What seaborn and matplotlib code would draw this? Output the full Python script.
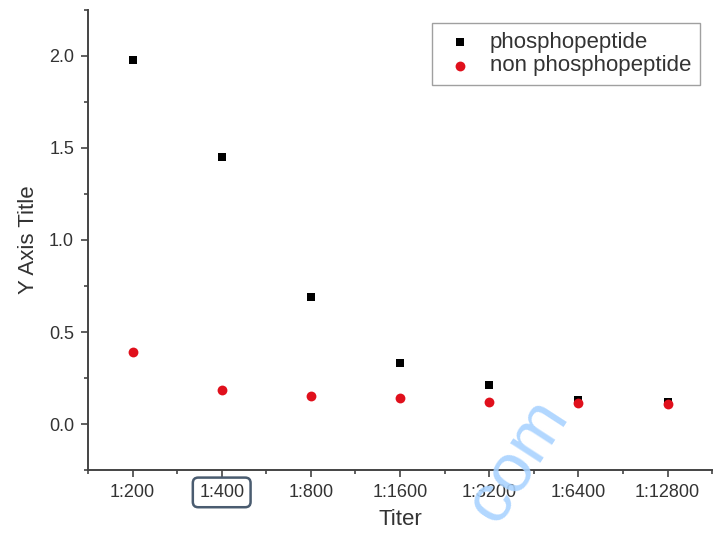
import numpy as np
import pandas as pd
import matplotlib
matplotlib.use("Agg")
import matplotlib.pyplot as plt
import seaborn as sns
from matplotlib.ticker import FixedLocator

titers = ["1:200", "1:400", "1:800", "1:1600", "1:3200", "1:6400", "1:12800"]
phospho = [1.98, 1.45, 0.69, 0.33, 0.21, 0.13, 0.12]
non_phospho = [0.39, 0.185, 0.152, 0.142, 0.122, 0.115, 0.109]
y_ticks = [0.0, 0.5, 1.0, 1.5, 2.0]

sns.set_style("white")
plt.rcParams['font.family'] = ['Liberation Sans', 'DejaVu Sans']
text_color = '#333333'
axis_color = '#444444'

df_p = pd.DataFrame({'Titer': titers, 'value': phospho})
df_n = pd.DataFrame({'Titer': titers, 'value': non_phospho})

fig = plt.figure(figsize=(7.15, 5.48), dpi=100)
ax = fig.add_axes([0.123, 0.1423, 0.873, 0.8395])

sns.scatterplot(data=df_p, x='Titer', y='value', marker='s', color='black',
                s=40, linewidth=0, label='phosphopeptide', ax=ax)
sns.scatterplot(data=df_n, x='Titer', y='value', marker='o', color='#e0101c',
                s=50, linewidth=0, label='non phosphopeptide', ax=ax)

ax.set_xlim(-0.5, len(titers) - 0.5)
ax.set_ylim(-0.25, 2.25)
ax.set_yticks(y_ticks)
ax.set_yticklabels([f"{v:.1f}" for v in y_ticks])
ax.yaxis.set_minor_locator(FixedLocator(np.arange(-0.25, 2.3, 0.5)))
ax.xaxis.set_minor_locator(FixedLocator(np.arange(-0.5, len(titers), 1.0)))

for side in ['top', 'right']:
    ax.spines[side].set_visible(False)
for side in ['left', 'bottom']:
    ax.spines[side].set_color(axis_color)
    ax.spines[side].set_linewidth(1.4)

ax.tick_params(which='major', direction='out', length=5, width=1.2, color=axis_color,
               labelsize=13, labelcolor=text_color, pad=5)
ax.tick_params(which='minor', direction='out', length=3, width=1.2, color=axis_color)
ax.tick_params(axis='x', bottom=True, which='both')
ax.tick_params(axis='y', left=True, which='both')

# boxed tick label
ax.get_xticklabels()[1].set_bbox(dict(boxstyle='round,pad=0.35,rounding_size=0.3',
                                      fc='none', ec='#4a5c70', lw=1.8))

ax.set_xlabel('Titer', fontsize=16, color=text_color, labelpad=6)
ax.set_ylabel('Y Axis Title', fontsize=16, color=text_color, labelpad=7)

leg = ax.legend(loc='upper right', bbox_to_anchor=(0.981, 0.972), borderaxespad=0,
                fontsize=16, frameon=True, fancybox=False, edgecolor='#888888',
                handletextpad=0.5, labelspacing=0.12, borderpad=0.4,
                handlelength=1.7, markerscale=1.0)
leg.get_frame().set_linewidth(1.0)
for t in leg.get_texts():
    t.set_color(text_color)

# watermark
fig.text(0.725, 0.16, 'com', fontsize=50, color='#a9d3ff', rotation=57,
         ha='center', va='center', alpha=0.9)

fig.savefig('out.png', dpi=100)
